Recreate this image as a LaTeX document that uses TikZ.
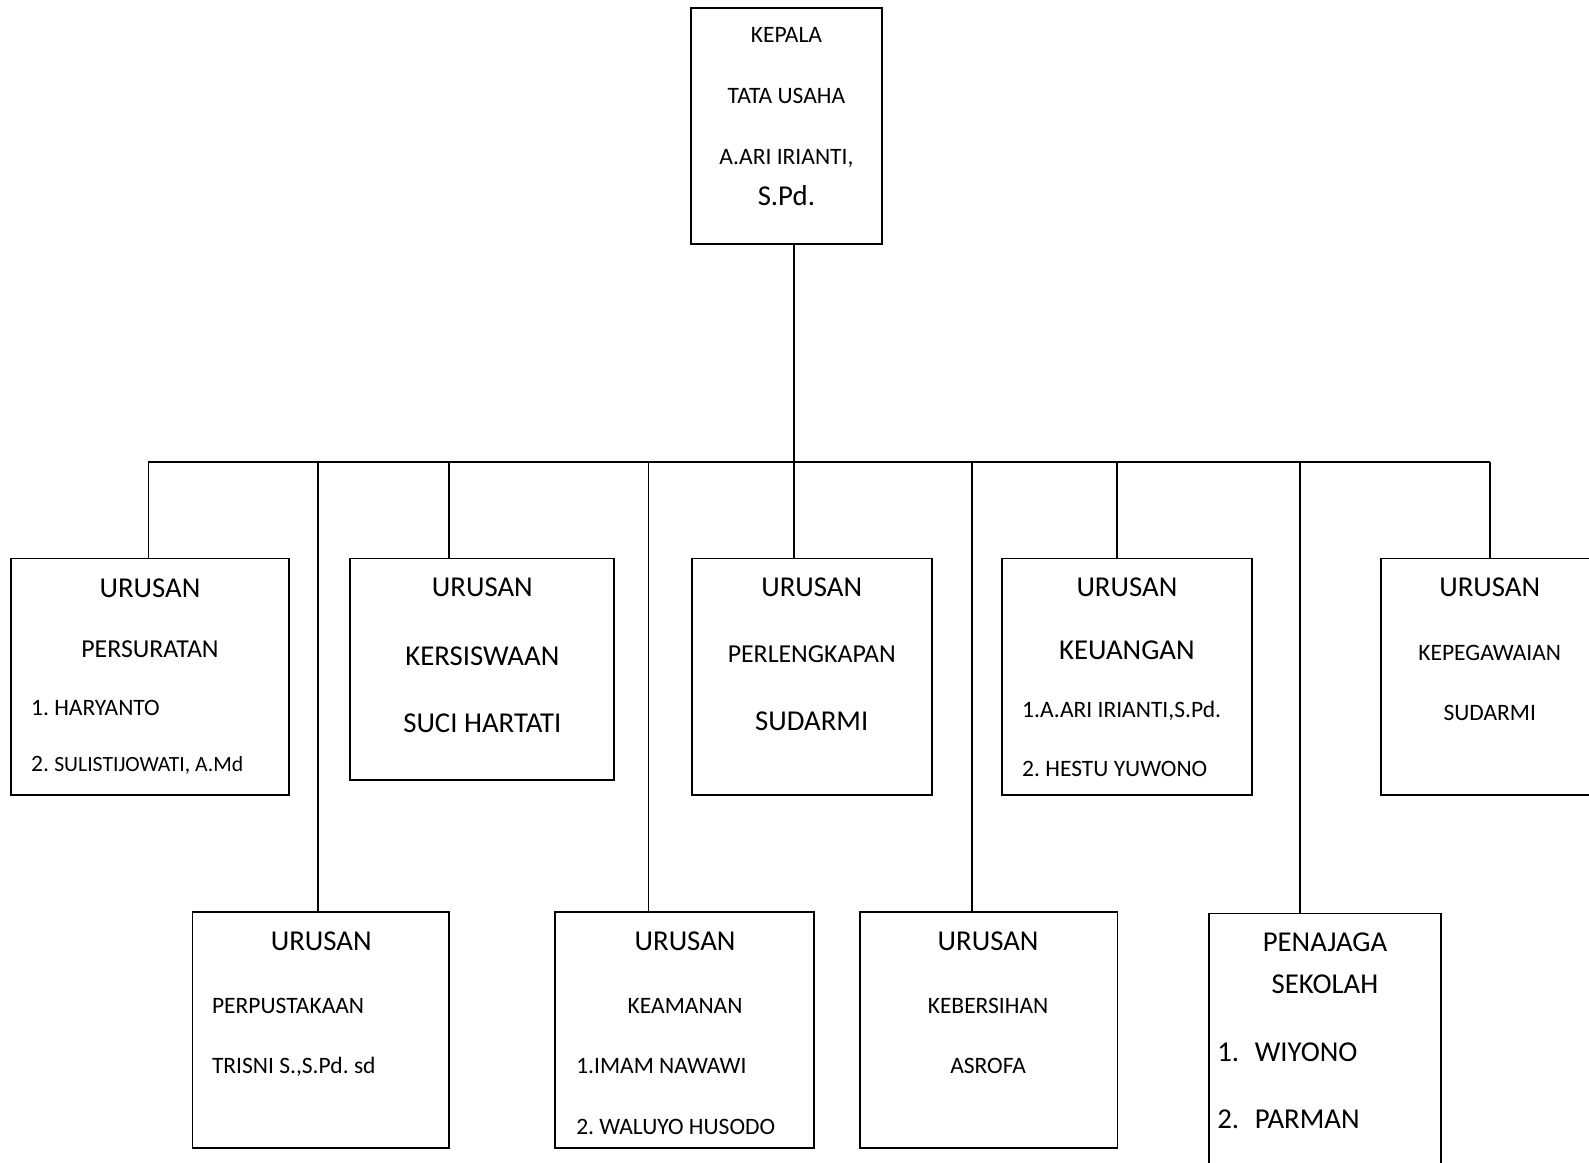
\documentclass[tikz,border=0pt]{standalone}
\usepackage{fontspec}
\setmainfont{Carlito}
\frenchspacing
\begin{document}
\begin{tikzpicture}[x=1pt,y=-1pt,
  box/.style={draw,line width=1.7pt,rectangle,inner sep=0pt},
  ln/.style={line width=1.7pt},
  txt/.style={inner sep=0pt,anchor=base},
  lft/.style={inner sep=0pt,anchor=base west},
  tsm/.style={font=\fontsize{23.2}{28}\selectfont,yshift=-7.3pt},
  tmd/.style={font=\fontsize{25.5}{30}\selectfont,yshift=-8.1pt},
  tlg/.style={font=\fontsize{28.4}{34}\selectfont,yshift=-9.0pt}]
\useasboundingbox (0,0) rectangle (1568,1147);
\clip (0,0) rectangle (1568,1147);
\fill[white] (0,0) rectangle (1568,1147);
% boxes
\node[box,minimum width=188pt,minimum height=233pt] (top) at (776,124.5) {};
\node[box,minimum width=274pt,minimum height=233.5pt] (pers) at (148,667.75) {};
\node[box,minimum width=260.5pt,minimum height=219pt] (kers) at (475.75,660.5) {};
\node[box,minimum width=237.5pt,minimum height=233.5pt] (perl) at (801.25,667.75) {};
\node[box,minimum width=247pt,minimum height=233.5pt] (keu) at (1112,667.75) {};
\node[box,minimum width=237pt,minimum height=233.5pt] (kep) at (1481.5,667.75) {};
\node[box,minimum width=253pt,minimum height=232.5pt] (perp) at (316.5,1016.25) {};
\node[box,minimum width=255.5pt,minimum height=232.5pt] (keam) at (675.75,1016.25) {};
\node[box,minimum width=254pt,minimum height=232.5pt] (kebe) at (975.6,1016.25) {};
\node[box,minimum width=229pt,minimum height=298.5pt] (pena) at (1307.5,1050.75) {};
% bus coordinates
\coordinate (b1) at (146.5,456);
\coordinate (b2) at (314,456);
\coordinate (b3) at (443,456);
\coordinate (b4) at (640,456);
\coordinate (b5) at (783.5,456);
\coordinate (b6) at (959,456);
\coordinate (b7) at (1102.5,456);
\coordinate (b8) at (1283,456);
\coordinate (b9) at (1470,456);
% connectors
\draw[ln] (b5 |- top.south) -- (b5);
\draw[ln] (b1) -- (b9);
\draw[ln] (b1) -- (b1 |- pers.north);
\draw[ln] (b2) -- (b2 |- perp.north);
\draw[ln] (b3) -- (b3 |- kers.north);
\draw[ln] (b4) -- (b4 |- keam.north);
\draw[ln] (b5) -- (b5 |- perl.north);
\draw[ln] (b6) -- (b6 |- kebe.north);
\draw[ln] (b7) -- (b7 |- keu.north);
\draw[ln] (b8) -- (b8 |- pena.north);
\draw[ln] (b9) -- (b9 |- kep.north);
% texts: top
\node[txt,tsm] (t1) at (776,35) {KEPALA};
\node[txt,tsm] (t2) at (776,95) {TATA USAHA};
\node[txt,tsm] (t3) at (776,155) {A.ARI IRIANTI,};
\node[txt,tlg] (t4) at (776,194) {S.Pd.};
% persuratan
\node[txt,tlg] (t5) at (148,581) {URUSAN};
\node[txt,tmd] (t6) at (148,641) {PERSURATAN};
\node[lft,tsm] (t7) at (30.5,699) {1. HARYANTO};
\node[lft,tsm] (t8) at (30.5,754) {2. {\fontsize{21.4}{26}\selectfont SULISTIJOWATI, A.Md}};
% kersiswaan
\node[txt,tlg] (t9) at (476,580) {URUSAN};
\node[txt,tlg] (t10) at (476,648) {KERSISWAAN};
\node[txt,tlg] (t11) at (476,714) {SUCI HARTATI};
% perlengkapan
\node[txt,tlg] (t12) at (801,580) {URUSAN};
\node[txt,tmd] (t13) at (801,646) {PERLENGKAPAN};
\node[txt,tlg] (t14) at (801,712) {SUDARMI};
% keuangan
\node[txt,tlg] (t15) at (1112,580) {URUSAN};
\node[txt,tlg] (t16) at (1112,642) {KEUANGAN};
\node[lft,tsm] (t17) at (1008.5,701) {1.A.ARI IRIANTI,S.Pd.};
\node[lft,tsm] (t18) at (1008.5,759) {2. HESTU YUWONO};
% kepegawaian
\node[txt,tlg] (t19) at (1470,580) {URUSAN};
\node[txt,tsm] (t20) at (1470,644) {KEPEGAWAIAN};
\node[txt,tsm] (t21) at (1470,703.5) {SUDARMI};
% perpustakaan
\node[txt,tlg] (t22) at (317,929) {URUSAN};
\node[lft,tsm] (t23) at (209,992.5) {PERPUSTAKAAN};
\node[lft,tsm] (t24) at (209,1052) {TRISNI S.,S.Pd. sd};
% keamanan
\node[txt,tlg] (t25) at (676,929) {URUSAN};
\node[txt,tsm] (t26) at (676,992.5) {KEAMANAN};
\node[lft,tsm] (t27) at (568.5,1052) {1.IMAM NAWAWI};
\node[lft,tsm] (t28) at (568.5,1112) {2. WALUYO HUSODO};
% kebersihan
\node[txt,tlg] (t29) at (975,929) {URUSAN};
\node[txt,tsm] (t30) at (975,992.5) {KEBERSIHAN};
\node[txt,tsm] (t31) at (975,1052) {ASROFA};
% penajaga
\node[txt,tlg] (t32) at (1307.5,930) {PENAJAGA};
\node[txt,tlg] (t33) at (1307.5,971) {SEKOLAH};
\node[lft,tlg] (t34) at (1201,1038.6) {\makebox[37pt][l]{1.}WIYONO};
\node[lft,tlg] (t35) at (1201,1105) {\makebox[37pt][l]{2.}PARMAN};
\end{tikzpicture}
\end{document}
